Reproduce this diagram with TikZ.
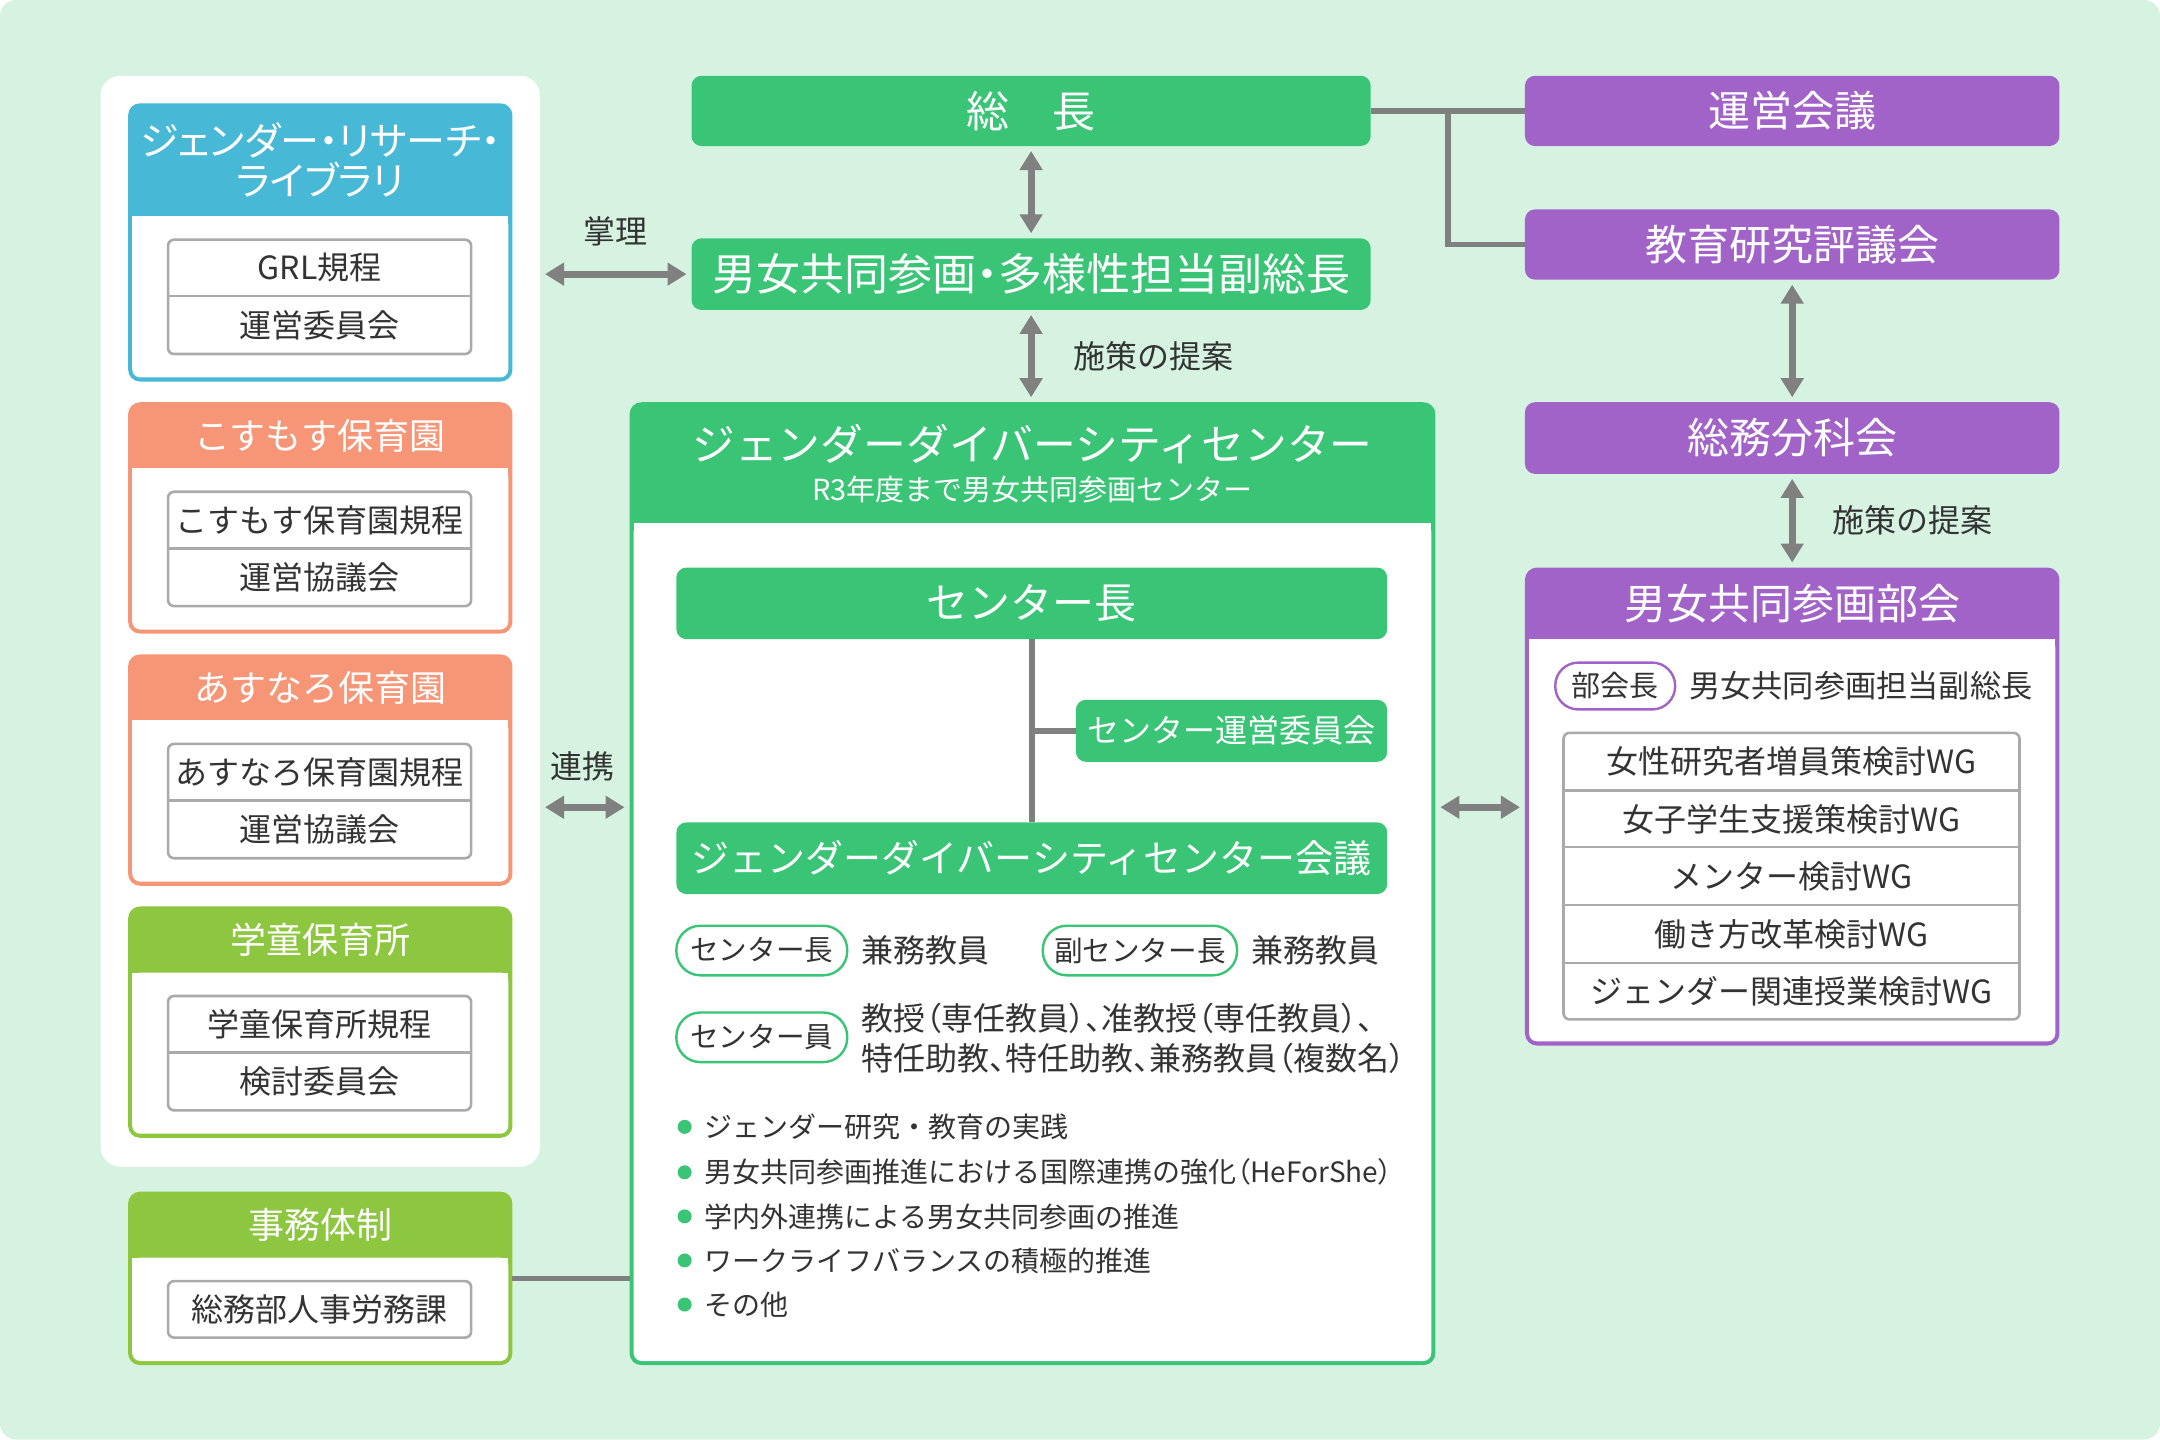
\documentclass[tikz,border=0pt]{standalone}
\usepackage{fontspec}
\setmainfont{Noto Sans CJK JP}
\usetikzlibrary{arrows.meta,fit,calc}
\definecolor{bgc}{HTML}{D6F3E2}
\definecolor{grn}{HTML}{3AC576}
\definecolor{pur}{HTML}{A263C9}
\definecolor{blu}{HTML}{47B9D7}
\definecolor{sal}{HTML}{F79677}
\definecolor{lim}{HTML}{8DC63F}
\definecolor{cgray}{HTML}{808080}
\definecolor{tbl}{HTML}{AAAAAA}
\definecolor{txt}{HTML}{333333}
\newcommand{\fsz}[1]{\fontsize{#1pt}{1.12\dimexpr #1pt\relax}\selectfont}
\newcommand{\palt}{\addfontfeature{RawFeature=+palt}}
\newcommand{\hpanel}[7]{%
  \node[area={(#3,#4)(#5,#6)}, fill=#2, rounded corners=6pt] (#1) {};
  \fill[white, rounded corners=4pt] (#3+3,#7) rectangle (#5-3,#6-3);
  \fill[white] (#3+3,#7) rectangle (#5-3,#7+10);
  \coordinate (#1-h) at ($(#3,#4)!.5!(#5,#7)$);
}
\newcommand{\tbltwo}[8]{%
  \node[area={(#2,#3)(#4,#6)}, tblbox] (#1) {};
  \draw[tblline] (#2,#5) -- (#4,#5);
  \node[dtxt, font=\fsz{16}] (#1-a) at ($(#2,#3)!.5!(#4,#5)$) {#7};
  \node[dtxt, font=\fsz{16}] (#1-b) at ($(#2,#5)!.5!(#4,#6)$) {#8};
}
\begin{document}
\begin{tikzpicture}[x=0.6888pt,y=-0.6888pt,
  area/.style={fit={#1}, inner sep=0pt, outer sep=0pt},
  fillbox/.style={fill=#1, draw=none, rounded corners=5pt},
  htxt/.style={text=white, inner sep=0pt, align=center},
  dtxt/.style={text=txt, inner sep=0pt, align=left},
  tblbox/.style={draw=tbl, line width=1.3pt, fill=white, rounded corners=3pt},
  tblline/.style={draw=tbl, line width=1.3pt},
  link/.style={draw=cgray, line width=2.8pt},
  dbl/.style={draw=cgray, line width=3.4pt,
    {Triangle[width=11pt,length=9.5pt]}-{Triangle[width=11pt,length=9.5pt]},
    shorten <=2.5pt, shorten >=2.5pt},
  pillg/.style={draw=grn, line width=1.2pt, fill=white, rounded corners=12pt},
  pillp/.style={draw=pur, line width=1.2pt, fill=white, rounded corners=11.5pt},
]
\useasboundingbox (0,0) rectangle (1568,1045);
\node[area={(0,0)(1568,1045)}, fill=bgc, rounded corners=8pt] (bg) {};
\node[area={(73,55)(392,847)}, fill=white, rounded corners=10pt] (lpanel) {};

% ---------- left column ----------
\hpanel{grl}{blu}{93}{75}{372}{277}{157}
\node[htxt, font=\fontsize{19.5pt}{20pt}\selectfont\palt] (grl-t) at (grl-h) {ジェンダー・リサーチ・\\ライブラリ};
\tbltwo{grltb}{122}{174}{342}{215}{257}{GRL規程}{運営委員会}

\hpanel{kos}{sal}{93}{292}{372}{460}{340}
\node[htxt, font=\fsz{18}] (kos-t) at (kos-h) {こすもす保育園};
\tbltwo{kostb}{122}{357}{342}{398}{440}{こすもす保育園規程}{運営協議会}

\hpanel{asu}{sal}{93}{475}{372}{643}{523}
\node[htxt, font=\fsz{18}] (asu-t) at (asu-h) {あすなろ保育園};
\tbltwo{asutb}{122}{540}{342}{581}{623}{あすなろ保育園規程}{運営協議会}

\hpanel{gak}{lim}{93}{658}{372}{826}{706}
\node[htxt, font=\fsz{18}] (gak-t) at (gak-h) {学童保育所};
\tbltwo{gaktb}{122}{723}{342}{764}{806}{学童保育所規程}{検討委員会}

\hpanel{jimu}{lim}{93}{865}{372}{991}{913}
\node[htxt, font=\fsz{18}] (jimu-t) at (jimu-h) {事務体制};
\node[area={(122,930)(342,971)}, tblbox] (jimutb) {};
\node[dtxt, font=\fsz{16}] (jimutb-a) at (jimutb.center) {総務部人事労務課};

% ---------- center column ----------
\node[area={(502,55)(995,106)}, fillbox=grn] (sochou) {};
\node[htxt, font=\fsz{21.5}] (sochou-t) at (sochou.center) {総　長};
\node[area={(502,173)(995,225)}, fillbox=grn] (fuku) {};
\node[htxt, font=\fsz{22}\palt] (fuku-t) at (fuku.center) {男女共同参画・多様性担当副総長};

\hpanel{center}{grn}{457}{292}{1042}{991}{380}
\node[htxt, font=\fsz{21.4}] (center-t) at (749.5,322) {ジェンダーダイバーシティセンター};
\node[htxt, font=\fsz{14.5}] (center-s) at (749.5,355) {R3年度まで男女共同参画センター};

\node[area={(491,412)(1007,464)}, fillbox=grn] (cchief) {};
\node[htxt, font=\fsz{21}] (cchief-t) at (cchief.center) {センター長};
\node[area={(781,508)(1007,553)}, fillbox=grn] (cunei) {};
\node[htxt, font=\fsz{16}] (cunei-t) at (cunei.center) {センター運営委員会};
\node[area={(491,597)(1007,649)}, fillbox=grn] (cmeet) {};
\node[htxt, font=\fsz{19}] (cmeet-t) at (cmeet.center) {ジェンダーダイバーシティセンター会議};

\node[area={(491,672)(615,708)}, pillg] (p1) {};
\node[dtxt, font=\fsz{14.3}] (p1-t) at (p1.center) {センター長};
\node[dtxt, anchor=west, font=\fsz{16}] (p1v) at (625,690) {兼務教員};
\node[area={(757,672)(898,708)}, pillg] (p2) {};
\node[dtxt, font=\fsz{14.3}] (p2-t) at (p2.center) {副センター長};
\node[dtxt, anchor=west, font=\fsz{16}] (p2v) at (908,690) {兼務教員};
\node[area={(491,735)(615,771)}, pillg] (p3) {};
\node[dtxt, font=\fsz{14.3}] (p3-t) at (p3.center) {センター員};
\node[dtxt, anchor=west, font=\fsz{16}\palt] (p3a) at (625,739) {教授（専任教員）、准教授（専任教員）、};
\node[dtxt, anchor=west, font=\fsz{16}\palt] (p3b) at (625,768) {特任助教、特任助教、兼務教員（複数名）};

\foreach \yy/\tt [count=\i] in {818/ジェンダー研究・教育の実践,
  851/{男女共同参画推進における国際連携の強化{\palt （HeForShe）}},
  883/学内外連携による男女共同参画の推進,
  915/ワークライフバランスの積極的推進,
  947/その他}{
  \node[circle, fill=grn, minimum size=7pt, inner sep=0pt] (dot\i) at (497,\yy) {};
  \node[dtxt, anchor=west, font=\fsz{14}] (bul\i) at (511,\yy) {\tt};
}

% ---------- right column ----------
\node[area={(1107,55)(1495,106)}, fillbox=pur] (unei) {};
\node[htxt, font=\fsz{21}] (unei-t) at (unei.center) {運営会議};
\node[area={(1107,152)(1495,203)}, fillbox=pur] (kyoiku) {};
\node[htxt, font=\fsz{21}] (kyoiku-t) at (kyoiku.center) {教育研究評議会};
\node[area={(1107,292)(1495,344)}, fillbox=pur] (soumu) {};
\node[htxt, font=\fsz{21}] (soumu-t) at (soumu.center) {総務分科会};

\hpanel{bukai}{pur}{1107}{412}{1495}{759}{464}
\node[htxt, font=\fsz{21}] (bukai-t) at (bukai-h) {男女共同参画部会};
\node[area={(1129,481)(1216,515)}, pillp] (p4) {};
\node[dtxt, font=\fsz{14.5}] (p4-t) at (p4.center) {部会長};
\node[dtxt, anchor=west, font=\fsz{15.6}] (p4v) at (1226,498) {男女共同参画担当副総長};

\node[area={(1135,532)(1466,740)}, tblbox] (wg) {};
\foreach \yy in {574,615,657,699}{\draw[tblline] (1135,\yy) -- (1466,\yy);}
\node[dtxt, font=\fsz{16}] (wg1) at (1300.5,553) {女性研究者増員策検討WG};
\node[dtxt, font=\fsz{16}] (wg2) at (1300.5,594.5) {女子学生支援策検討WG};
\node[dtxt, font=\fsz{16}] (wg3) at (1300.5,636) {メンター検討WG};
\node[dtxt, font=\fsz{16}] (wg4) at (1300.5,678) {働き方改革検討WG};
\node[dtxt, font=\fsz{16}] (wg5) at (1300.5,719.5) {ジェンダー関連授業検討WG};

% ---------- connectors ----------
\coordinate (j1) at ($(sochou.east)!0.5!(unei.west)$);
\coordinate (mid) at (0,586);
\draw[link] (sochou.east) -- (unei.west);
\draw[link] (j1) |- (kyoiku.west);
\draw[link] (cchief.south) -- (cmeet.north);
\draw[link] (cchief.south |- cunei.west) -- (cunei.west);
\draw[link] (jimu.east) -- (center.west |- jimu.east);

\draw[dbl] (sochou.south) -- (fuku.north);
\draw[dbl] (fuku.south) -- (fuku.south |- center.north);
\draw[dbl] (lpanel.east |- fuku.west) -- (fuku.west);
\draw[dbl] (lpanel.east |- mid) -- (center.west |- mid);
\draw[dbl] (center.east |- mid) -- (bukai.west |- mid);
\draw[dbl] (kyoiku.south) -- (soumu.north);
\draw[dbl] (soumu.south) -- (bukai.north);

\node[dtxt, font=\fsz{16}] (l1) at (447,168) {掌理};
\node[dtxt, anchor=west, font=\fsz{16}] (l2) at (779,259) {施策の提案};
\node[dtxt, font=\fsz{16}] (l3) at (423,556) {連携};
\node[dtxt, anchor=west, font=\fsz{16}] (l4) at (1330,378) {施策の提案};
\end{tikzpicture}
\end{document}
